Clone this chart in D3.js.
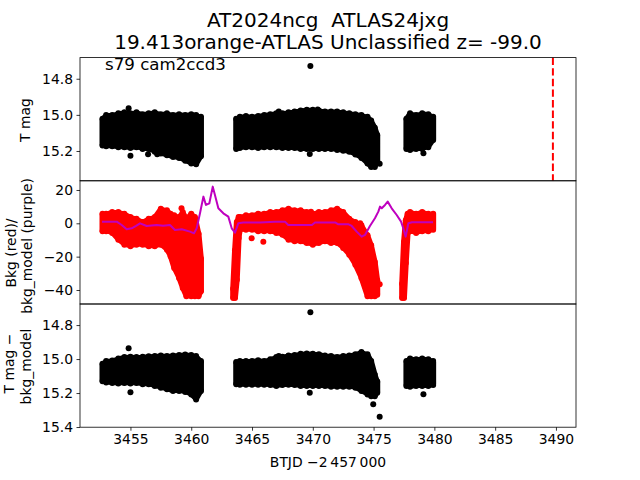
<!DOCTYPE html>
<html><head><meta charset="utf-8">
<script src="https://cdn.jsdelivr.net/npm/d3@7"></script>
<style>body{margin:0;background:#fff} text{font-family:"DejaVu Sans",sans-serif;fill:#000;white-space:pre}</style>
</head><body><svg id="c" width="640" height="480"></svg>
<script>
// ---------- DATA ----------
const titleLines = ["AT2024ncg  ATLAS24jxg", "19.413orange-ATLAS Unclassified z= -99.0"];
const sectorLabel = "s79 cam2ccd3";
const xTicks = [3455, 3460, 3465, 3470, 3475, 3480, 3485, 3490];
const yTicks1 = [14.8, 15.0, 15.2];
const yTicks2 = [20, 0, -20, -40];
const yTicks3 = [14.8, 15.0, 15.2, 15.4];
const discoveryT = 3489.75;

// Panel 1: T mag, cloud envelopes (upper = brighter edge, lower = fainter edge)
const t1a = [3452.7,3453.0,3453.5,3454.0,3454.5,3455.0,3455.5,3456.0,3456.5,3457.0,3457.5,3458.0,3458.5,3459.0,3459.5,3460.0,3460.4,3460.8];
const m1aHi = [15.01,14.99,14.99,14.98,14.975,14.98,14.975,14.985,14.98,14.975,14.985,14.98,14.99,14.985,14.99,14.985,14.99,15.0];
const m1aLo = [15.18,15.185,15.185,15.19,15.19,15.195,15.19,15.2,15.2,15.215,15.225,15.235,15.245,15.25,15.265,15.28,15.285,15.24];
const t1b = [3463.7,3464.0,3464.5,3465.0,3465.5,3466.0,3466.5,3467.0,3467.5,3468.0,3468.5,3469.0,3469.5,3470.0,3470.5,3471.0,3471.5,3472.0,3472.5,3473.0,3473.5,3474.0,3474.5,3474.8,3475.1,3475.3];
const m1bHi = [15.01,15.0,14.995,15.0,14.995,14.99,14.985,14.98,14.98,14.975,14.97,14.965,14.96,14.96,14.965,14.97,14.97,14.97,14.975,14.98,14.985,14.99,15.0,15.02,15.06,15.1];
const m1bLo = [15.2,15.195,15.19,15.19,15.195,15.19,15.19,15.19,15.195,15.195,15.195,15.2,15.2,15.2,15.2,15.2,15.2,15.205,15.21,15.215,15.23,15.25,15.28,15.3,15.3,15.27];
const t1c = [3477.7,3478.0,3478.5,3479.0,3479.5,3479.9];
const m1cHi = [15.01,14.98,14.99,14.98,14.985,15.0];
const m1cLo = [15.2,15.205,15.2,15.2,15.19,15.15];
const out1T = [3454.85,3455.0,3456.45,3457.2,3467.2,3469.8,3469.75,3470.4,3474.97,3475.5,3479.1];
const out1M = [14.964,15.226,15.218,15.218,14.982,14.73,15.216,14.97,15.265,15.27,15.213];

// Panel 2: background (red) envelopes and model (purple)
const t2a = [3452.7,3453.0,3453.5,3454.0,3454.5,3455.0,3455.5,3456.0,3456.5,3457.0,3457.5,3458.0,3458.3,3458.6,3459.0,3459.3,3459.6,3460.0,3460.3,3460.6,3460.8];
const b2aHi = [7,7,8,8,7,5,4,2,4,5,10,9,7,6,5,8,4,7,5,-5,-20];
const b2aLo = [-6,-6,-7,-11,-14,-15,-14,-14,-15,-15,-14,-17,-21,-28,-34,-40,-45,-45,-45,-45,-42];
const t2b = [3463.45,3463.6,3463.75,3463.9,3464.0,3464.5,3465.0,3465.5,3466.0,3466.5,3467.0,3467.5,3468.0,3468.5,3469.0,3469.5,3470.0,3470.5,3471.0,3471.5,3472.0,3472.5,3473.0,3473.5,3474.0,3474.5,3474.8,3475.1,3475.3];
const b2bHi = [-38,-15,2,5,5,6,6,7,7,8,8,9,10,9,9,8,7,8,8,9,10,8,4,2,0,-6,-12,-22,-33];
const b2bLo = [-46,-46,-35,-10,-5,-5,-5,-6,-6,-6,-7,-8,-11,-12,-12,-13,-14,-13,-12,-13,-13,-16,-20,-26,-34,-45,-45,-45,-44];
const t2c = [3477.35,3477.5,3477.65,3477.8,3478.0,3478.5,3479.0,3479.5,3479.9];
const b2cHi = [-35,-10,3,7,8,7,8,7,7];
const b2cLo = [-46,-46,-25,-7,-6,-7,-6,-6,-5];
const out2T = [3459.2,3464.97,3465.93,3469.85,3473.9,3475.1,3475.5];
const out2B = [9,-9,-11,7,0,-34,-36.6];
const modelT = [3452.66,3453.32,3453.87,3454.28,3454.69,3455.1,3455.46,3455.79,3456.34,3457.16,3457.68,3458.25,3458.66,3459.22,3459.9,3460.23,3460.45,3460.72,3461.0,3461.21,3461.49,3461.77,3461.95,3462.23,3462.64,3463.05,3463.33,3463.6,3463.87,3464.28,3465.66,3466.89,3467.71,3467.98,3468.95,3469.93,3470.18,3471.83,3472.07,3472.9,3473.2,3473.61,3474.02,3474.29,3474.7,3475.11,3475.39,3475.53,3475.67,3475.94,3476.16,3476.49,3476.9,3477.26,3477.44,3477.64,3477.86,3478.16,3479.89];
const modelB = [1,1,1,-1,-3.6,-3,-1.5,0,-1.6,-1,-1.5,-1,-4,-3.6,-5,-6,-3,6,16,11,12,22,17,9,6,4,-3,-5.6,0,0.5,0.5,1,1,-1,-1,-1,0.5,0.5,-0.5,-0.5,-1.6,-5,-8,-7,-1.6,3,7,10,9,11,13,9,5,1,-3,-8,0,0.6,0.6];

// Panel 3: T mag - bkg_model envelopes
const t3a = t1a;
const m3aHi = [15.016,15.0,14.996,14.985,14.976,14.975,14.976,14.975,14.972,14.97,14.968,14.97,14.967,14.965,14.962,14.965,14.97,15.0];
const m3aLo = [15.143,15.15,15.153,15.155,15.153,15.155,15.153,15.16,15.16,15.17,15.18,15.19,15.2,15.2,15.205,15.22,15.25,15.2];
const t3b = t1b;
const m3bHi = [15.006,15.0,15.0,15.0,14.995,15.0,14.99,14.976,14.975,14.967,14.965,14.957,14.955,14.957,14.96,14.967,14.97,14.976,14.97,14.967,14.96,14.947,14.96,15.0,15.08,15.12];
const m3bLo = [15.16,15.163,15.163,15.163,15.163,15.163,15.165,15.17,15.165,15.163,15.165,15.17,15.17,15.17,15.17,15.17,15.175,15.175,15.175,15.175,15.18,15.2,15.22,15.23,15.23,15.21];
const t3c = t1c;
const m3cHi = [15.0,14.985,14.99,14.985,14.99,15.0];
const m3cLo = [15.17,15.175,15.17,15.17,15.17,15.165];
const out3T = [3454.85,3455.0,3467.2,3469.8,3469.75,3470.7,3474.97,3475.5,3479.1];
const out3M = [14.937,15.196,14.982,14.725,15.198,14.98,15.266,15.34,15.207];
const outErr = 0.012;

// ---------- LAYOUT ----------
const svg = d3.select("#c");
const L = 80, R = 576;
const P = [[57.6,180.8],[180.8,304],[304,427.2]];
const x = d3.scaleLinear().domain([3450.85, 3491.65]).range([L, R]);
const y1 = d3.scaleLinear().domain([14.683, 15.365]).range([P[0][0], P[0][1]]);
const y2 = d3.scaleLinear().domain([25.5, -48.4]).range([P[1][0], P[1][1]]);
const y3 = d3.scaleLinear().domain([14.676, 15.401]).range([P[2][0], P[2][1]]);
const FS = 13.9;

const defs = svg.append("defs");
P.forEach((p,i)=>{
  defs.append("clipPath").attr("id","cp"+i).append("rect")
    .attr("x",L).attr("y",p[0]).attr("width",R-L).attr("height",p[1]-p[0]);
});

function cloud(g, ts, hi, lo, y, color){
  const pts = ts.map((t,i)=>{
    const a = y(hi[i]), b = y(lo[i]);
    const top = Math.min(a,b)+3, bot = Math.max(a,b)-3;
    return {x:x(t), top:top, bot:Math.max(bot, top)};
  });
  const ar = d3.area().x(d=>d.x).y0(d=>d.bot).y1(d=>d.top);
  g.append("path").attr("d", ar(pts)).attr("fill",color).attr("stroke",color)
    .attr("stroke-width",6).attr("stroke-linejoin","round");
  pts.forEach(d=>{
    g.append("circle").attr("cx",d.x).attr("cy",d.top-1).attr("r",3).attr("fill",color);
    g.append("circle").attr("cx",d.x).attr("cy",d.bot+1).attr("r",3).attr("fill",color);
  });
}
function dots(g, ts, vs, y, color, err){
  ts.forEach((t,i)=>{
    if (err) {
      g.append("line").attr("x1",x(t)).attr("x2",x(t))
        .attr("y1",y(vs[i]-err)).attr("y2",y(vs[i]+err)).attr("stroke",color).attr("stroke-width",1.5);
    }
    g.append("circle").attr("cx",x(t)).attr("cy",y(vs[i])).attr("r",3).attr("fill",color);
  });
}

// Panel 1
const g1 = svg.append("g").attr("clip-path","url(#cp0)");
cloud(g1, t1a, m1aHi, m1aLo, y1, "#000");
cloud(g1, t1b, m1bHi, m1bLo, y1, "#000");
cloud(g1, t1c, m1cHi, m1cLo, y1, "#000");
dots(g1, out1T, out1M, y1, "#000", outErr);
g1.append("line").attr("x1",x(discoveryT)).attr("x2",x(discoveryT))
  .attr("y1",P[0][0]).attr("y2",P[0][1]).attr("stroke","#ff0000").attr("stroke-width",2)
  .attr("stroke-dasharray","7.4,3.2");

// Panel 2
const g2 = svg.append("g").attr("clip-path","url(#cp1)");
cloud(g2, t2a, b2aHi, b2aLo, y2, "#ff0000");
cloud(g2, t2b, b2bHi, b2bLo, y2, "#ff0000");
cloud(g2, t2c, b2cHi, b2cLo, y2, "#ff0000");
dots(g2, out2T, out2B, y2, "#ff0000", 0);
g2.append("path").datum(modelT.map((t,i)=>[t,modelB[i]]))
  .attr("d", d3.line().x(d=>x(d[0])).y(d=>y2(d[1])))
  .attr("fill","none").attr("stroke","#bf00bf").attr("stroke-width",2).attr("stroke-linejoin","round");

// Panel 3
const g3 = svg.append("g").attr("clip-path","url(#cp2)");
cloud(g3, t3a, m3aHi, m3aLo, y3, "#000");
cloud(g3, t3b, m3bHi, m3bLo, y3, "#000");
cloud(g3, t3c, m3cHi, m3cLo, y3, "#000");
dots(g3, out3T, out3M, y3, "#000", outErr);

// Frames
P.forEach(p=>{
  svg.append("rect").attr("x",L).attr("y",p[0]).attr("width",R-L).attr("height",p[1]-p[0])
    .attr("fill","none").attr("stroke","#000").attr("stroke-width",0.8);
});

// Axes
function yAxis(scale, ticks, fmt){
  const g = svg.append("g").attr("transform",`translate(${L},0)`)
    .call(d3.axisLeft(scale).tickValues(ticks).tickFormat(fmt).tickSize(3.5).tickPadding(3.5));
  g.select(".domain").remove();
  g.selectAll("line").attr("stroke","#000").attr("stroke-width",0.8);
  g.selectAll("text").attr("font-size",FS).attr("font-family","DejaVu Sans").attr("fill","#000");
}
yAxis(y1, yTicks1, d3.format(".1f"));
yAxis(y2, yTicks2, d3.format("d"));
yAxis(y3, yTicks3, d3.format(".1f"));
const gx = svg.append("g").attr("transform",`translate(0,${P[2][1]})`)
  .call(d3.axisBottom(x).tickValues(xTicks).tickFormat(d3.format("d")).tickSize(3.5).tickPadding(3.5));
gx.select(".domain").remove();
gx.selectAll("line").attr("stroke","#000").attr("stroke-width",0.8);
gx.selectAll("text").attr("font-size",FS).attr("font-family","DejaVu Sans").attr("fill","#000");

// Texts
svg.append("text").attr("x",328).attr("y",27).attr("text-anchor","middle").attr("font-size",20)
  .attr("xml:space","preserve").text(titleLines[0]);
svg.append("text").attr("x",328).attr("y",49).attr("text-anchor","middle").attr("font-size",20).text(titleLines[1]);
svg.append("text").attr("x",105).attr("y",70).attr("font-size",16.67).text(sectorLabel);
svg.append("text").attr("x",328).attr("y",467).attr("text-anchor","middle").attr("font-size",FS)
  .text("BTJD \u22122\u2009457\u2009000");
function ylab(txt, bx, cy){
  svg.append("text").attr("transform",`translate(${bx},${cy}) rotate(-90)`)
    .attr("text-anchor","middle").attr("font-size",FS).text(txt);
}
ylab("T mag", 29.5, 120);
ylab("Bkg (red)/", 15.5, 253);
ylab("bkg_model (purple)", 31.5, 246);
ylab("T mag \u2212", 14, 363.5);
ylab("bkg_model", 30.5, 366.5);
</script></body></html>
